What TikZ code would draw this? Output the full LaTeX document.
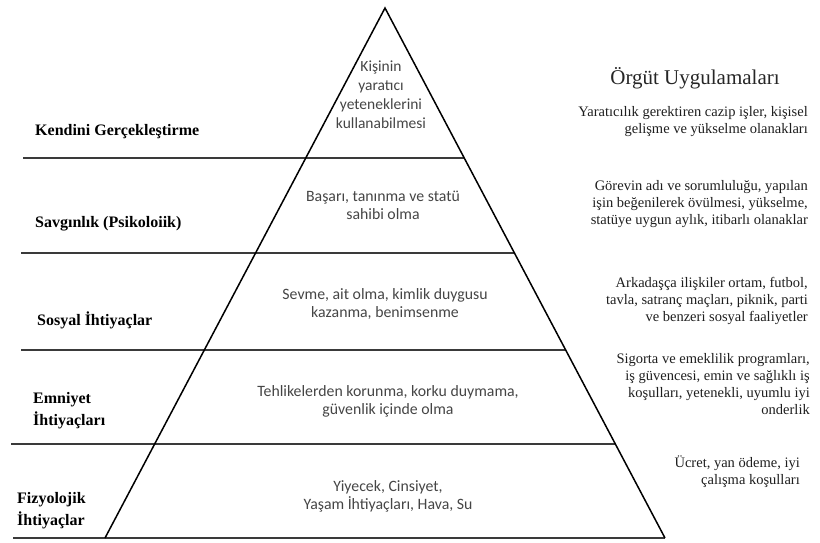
\documentclass[tikz,border=0pt]{standalone}
\usepackage{fontspec}
\setmainfont{Liberation Serif}
\newfontfamily\calfont{Carlito}
\usetikzlibrary{calc}
\definecolor{linegray}{HTML}{3A3A3A}
\definecolor{midtext}{HTML}{454545}
\definecolor{righttext}{HTML}{1E1E1E}
\tikzset{
  side/.style={draw=black, line width=1.5pt},
  level/.style={draw=linegray, line width=1.8pt},
  lefttag/.style={font=\fontsize{16}{22}\selectfont\bfseries, align=left, anchor=west, text=black, inner sep=0pt},
  midtag/.style={font=\calfont\fontsize{15.8}{18}\selectfont, align=center, text=midtext, inner sep=0pt},
  righttag/.style={font=\fontsize{14.5}{17}\selectfont, align=right, anchor=east, text=righttext, inner sep=0pt},
  titletag/.style={font=\fontsize{21}{24}\selectfont, text=black!85, inner sep=0pt}
}
\begin{document}
\begin{tikzpicture}[x=1pt,y=-1pt]
\useasboundingbox (0,0) rectangle (820,542);
% pyramid corners
\coordinate (apex) at (385,8);
\coordinate (bl) at (105,538);
\coordinate (br) at (665,538);
% level lines: left ends and right intersections
\coordinate (l1) at (23,158);  \coordinate (r1) at ($(apex)!150/530!(br)$);
\coordinate (l2) at (21,253);  \coordinate (r2) at ($(apex)!245/530!(br)$);
\coordinate (l3) at (21,350);  \coordinate (r3) at ($(apex)!342/530!(br)$);
\coordinate (l4) at (11,444);  \coordinate (r4) at ($(apex)!436/530!(br)$);
\coordinate (l5) at (13,538);

\draw[level] (l1) -- (r1);
\draw[level] (l2) -- (r2);
\draw[level] (l3) -- (r3);
\draw[level] (l4) -- (r4);
\draw[level] (l5) -- (br);
\draw[side] (bl) -- (apex) -- (br);

% left labels
\node[lefttag] (k1) at (35,132) {Kendini Gerçekleştirme};
\node[lefttag] (k2) at (35,224) {Savgınlık (Psikoloiik)};
\node[lefttag] (k3) at (37,320) {Sosyal İhtiyaçlar};
\node[lefttag] (k4) at (33,411) {Emniyet\\İhtiyaçları};
\node[lefttag] (k5) at (17,511) {Fizyolojik\\İhtiyaçlar};

% pyramid texts
\node[midtag, font=\calfont\fontsize{15.5}{19}\selectfont] (m1) at (381,95) {Kişinin\\yaratıcı\\yeteneklerini\\kullanabilmesi};
\node[midtag] (m2) at (383,205) {Başarı, tanınma ve statü\\sahibi olma};
\node[midtag] (m3) at (385,304) {Sevme, ait olma, kimlik duygusu\\kazanma, benimsenme};
\node[midtag] (m4) at (388,401) {Tehlikelerden korunma, korku duymama,\\güvenlik içinde olma};
\node[midtag] (m5) at (388,496) {Yiyecek, Cinsiyet,\\Yaşam İhtiyaçları, Hava, Su};

% right column
\node[titletag] (title) at (695,78) {Örgüt Uygulamaları};
\node[righttag] (o1) at (808,122) {Yaratıcılık gerektiren cazip işler, kişisel\\gelişme ve yükselme olanakları};
\node[righttag] (o2) at (808,204) {Görevin adı ve sorumluluğu, yapılan\\işin beğenilerek övülmesi, yükselme,\\statüye uygun aylık, itibarlı olanaklar};
\node[righttag] (o3) at (808,301) {Arkadaşça ilişkiler ortam, futbol,\\tavla, satranç maçları, piknik, parti\\ve benzeri sosyal faaliyetler};
\node[righttag] (o4) at (810,384) {Sigorta ve emeklilik programları,\\iş güvencesi, emin ve sağlıklı iş\\koşulları, yetenekli, uyumlu iyi\\onderlik};
\node[righttag] (o5) at (800,472) {Ücret, yan ödeme, iyi\\çalışma koşulları};
\end{tikzpicture}
\end{document}
